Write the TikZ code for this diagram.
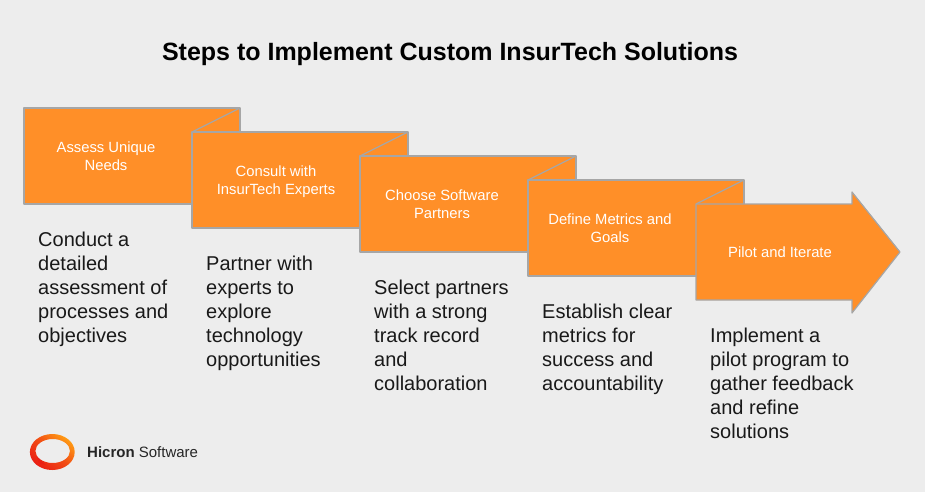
\documentclass[tikz,border=0pt]{standalone}
\usepackage{fontspec}
\setmainfont{Liberation Sans}
\definecolor{pagegrey}{HTML}{EDEDED}
\definecolor{steporange}{HTML}{FF8F28}
\definecolor{stepedge}{HTML}{A6A6A6}
\definecolor{logored}{HTML}{EA1F14}
\definecolor{logoorange}{HTML}{FF9C14}
\tikzset{
	stepbox/.style={draw=stepedge,fill=steporange,line width=1.2pt,line join=round,minimum width=216pt,minimum height=96pt,anchor=north west,inner sep=0pt,outer sep=0pt},
	steplabel/.style={text=white,align=center,inner sep=0pt,font=\fontsize{14.8}{18}\selectfont},
	stepfold/.style={draw=stepedge,line width=1.2pt},
	detail/.style={anchor=north west,align=left,inner sep=0pt,text=black!90,font=\fontsize{20}{24}\selectfont}
}
\begin{document}
\begin{tikzpicture}[x=1pt,y=-1pt]
	\useasboundingbox (0,0) rectangle (925,492);
	\fill[pagegrey] (0,0) rectangle (925,492);
	\node[font=\bfseries\fontsize{25}{30}\selectfont] (title) at (450,54.5) {Steps to Implement Custom InsurTech Solutions};
	% steps
	\node[stepbox] (assess) at (24,108) {};
	\node[steplabel] (assesslabel) at (106,156) {Assess Unique\\Needs};
	\node[stepbox] (consult) at (192,132) {};
	\draw[stepfold] (consult.north west) -- (assess.north east);
	\node[steplabel] (consultlabel) at (276,181.5) {Consult with\\InsurTech Experts};
	\node[stepbox] (choose) at (360,156) {};
	\draw[stepfold] (choose.north west) -- (consult.north east);
	\node[steplabel] (chooselabel) at (442,204) {Choose Software\\Partners};
	\node[stepbox] (define) at (528,180) {};
	\draw[stepfold] (define.north west) -- (choose.north east);
	\node[steplabel] (definelabel) at (610,228) {Define Metrics and\\Goals};
	\coordinate (pilot) at (696,204);
	\draw[stepfold,fill=steporange,line join=round] (pilot) -- (852,204) -- (852,192) -- (900,252) -- (852,313) -- (852,300) -- (696,300) -- cycle;
	\draw[stepfold] (pilot) -- (define.north east);
	\node[steplabel] (pilotlabel) at (780,252) {Pilot and Iterate};
	% details
	\draw (38,232) node[detail] (assessdetail) {Conduct a\\detailed\\assessment of\\processes and\\objectives};
	\draw (206,256) node[detail] (consultdetail) {Partner with\\experts to\\explore\\technology\\opportunities};
	\draw (374,280) node[detail] (choosedetail) {Select partners\\with a strong\\track record\\and\\collaboration};
	\draw (542,304) node[detail] (definedetail) {Establish clear\\metrics for\\success and\\accountability};
	\draw (710,328) node[detail] (pilotdetail) {Implement a\\pilot program to\\gather feedback\\and refine\\solutions};
	% logo
	\shade[even odd rule,top color=logoorange,bottom color=logored,middle color=logored!65!logoorange,shading angle=-40]
		(52.3,452) ellipse [x radius=22.4,y radius=18]
		(52.7,451) ellipse [x radius=17.3,y radius=12];
	\fill[logored] (36.5,456) -- (39,463.5) -- (46,465) -- (41,460.5) -- cycle;
	\node[anchor=west,inner sep=0pt,font=\fontsize{15}{18}\selectfont,text=black!85] (logotext) at (87,452) {\textbf{Hicron} Software};
\end{tikzpicture}
\end{document}
